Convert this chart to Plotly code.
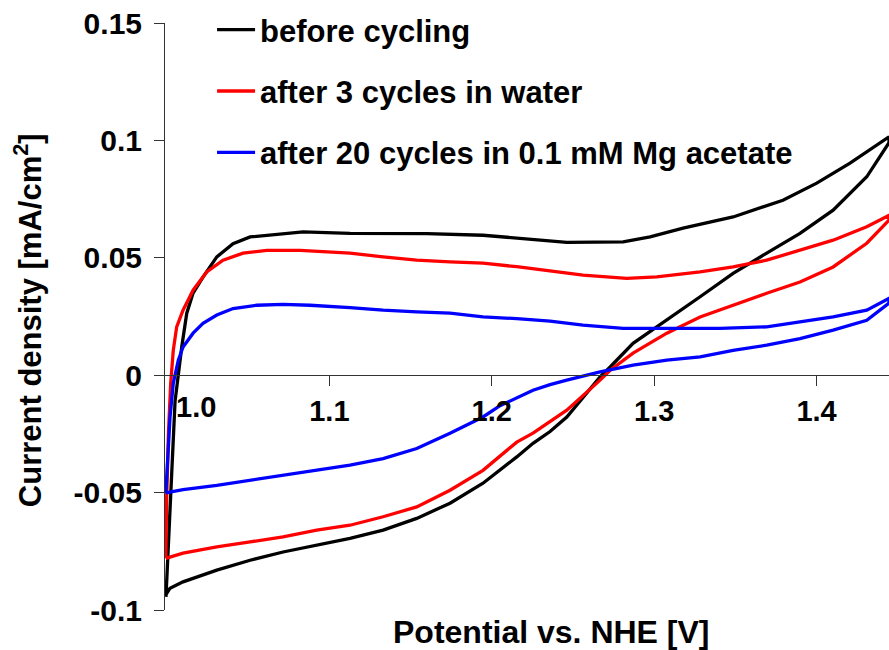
import plotly.graph_objects as go

# ---- data ----
series_names = ["before cycling", "after 3 cycles in water", "after 20 cycles in 0.1 mM Mg acetate"]
series_colors = ["#000000", "#FF0000", "#0000FF"]

black_x = [0.9994, 1.0007, 1.0019, 1.005, 1.0091, 1.0122, 1.0161, 1.0222, 1.0307, 1.0407, 1.0512,
           1.0715, 1.0838, 1.1127, 1.16, 1.1946, 1.2254, 1.2462, 1.2809, 1.2975, 1.3178, 1.3486,
           1.3793, 1.4001, 1.4206, 1.4446,
           1.4446, 1.4309, 1.4102, 1.3898, 1.3693, 1.3486, 1.3283, 1.3078, 1.287, 1.2729, 1.2667,
           1.2462, 1.2359, 1.2254, 1.2154, 1.1946, 1.1743, 1.1538, 1.1331, 1.1127, 1.0922, 1.0715,
           1.0512, 1.0307, 1.0099, 1.0019, 0.9993]
black_y = [-0.0944, -0.075, -0.05, -0.011, 0.012, 0.0264, 0.035, 0.0418, 0.0504, 0.056, 0.0589,
           0.0604, 0.061, 0.0604, 0.0603, 0.0596, 0.058, 0.0566, 0.0568, 0.0589, 0.0626, 0.0674,
           0.0745, 0.0818, 0.0903, 0.1015,
           0.099, 0.0845, 0.0703, 0.0604, 0.052, 0.0434, 0.0334, 0.0234, 0.0136, 0.0035, -0.0007,
           -0.0178, -0.024, -0.029, -0.0348, -0.046, -0.0545, -0.061, -0.066, -0.0695, -0.0724, -0.0753,
           -0.0788, -0.083, -0.088, -0.0907, -0.0935]

red_x = [0.9993, 0.9998, 1.0009, 1.0023, 1.0039, 1.006, 1.0099, 1.0161, 1.0245, 1.0345, 1.0469,
         1.0615, 1.082, 1.1127, 1.1331, 1.1538, 1.1743, 1.1946, 1.2154, 1.2359, 1.2562, 1.2831,
         1.3016, 1.3283, 1.3486, 1.3693, 1.3898, 1.4102, 1.4309, 1.4446,
         1.4446, 1.4309, 1.4102, 1.3898, 1.3693, 1.3486, 1.3283, 1.3078, 1.287, 1.2729, 1.2667,
         1.2462, 1.2254, 1.2154, 1.1946, 1.1743, 1.1538, 1.1331, 1.1127, 1.0922, 1.0715, 1.0512,
         1.0307, 1.0099, 1.0007, 0.9993]
red_y = [-0.078, -0.053, -0.0249, -0.0036, 0.0106, 0.0206, 0.0277, 0.0362, 0.044, 0.049, 0.052,
         0.0532, 0.0532, 0.052, 0.0504, 0.049, 0.0483, 0.0477, 0.0462, 0.0445, 0.0426, 0.0412,
         0.0419, 0.044, 0.0461, 0.049, 0.0532, 0.0575, 0.0632, 0.0681,
         0.066, 0.0562, 0.0461, 0.0397, 0.0349, 0.0298, 0.0248, 0.0179, 0.0094, 0.0021, -0.0021,
         -0.0149, -0.0247, -0.0285, -0.0405, -0.049, -0.0561, -0.0603, -0.0639, -0.066, -0.0689, -0.071,
         -0.0731, -0.0758, -0.0774, -0.078]

blue_x = [0.9993, 1.0009, 1.0019, 1.0039, 1.007, 1.0099, 1.0161, 1.0222, 1.0307, 1.0407, 1.0553,
          1.0715, 1.0881, 1.1127, 1.1331, 1.1538, 1.1743, 1.1946, 1.2154, 1.2359, 1.2562, 1.2809,
          1.3078, 1.3406, 1.3693, 1.3898, 1.4102, 1.4309, 1.4446,
          1.4446, 1.4309, 1.4102, 1.3898, 1.3693, 1.3486, 1.3283, 1.3078, 1.287, 1.2667, 1.2462,
          1.2359, 1.2254, 1.2154, 1.2051, 1.1946, 1.1743, 1.1538, 1.1331, 1.1127, 1.0922, 1.0715,
          1.0512, 1.0307, 1.0099, 0.9993]
blue_y = [-0.0503, -0.032, -0.0178, -0.0034, 0.0064, 0.012, 0.0179, 0.0221, 0.0256, 0.0284, 0.0298,
          0.0302, 0.0298, 0.0288, 0.0277, 0.027, 0.0264, 0.0248, 0.0241, 0.023, 0.0213, 0.0199,
          0.0199, 0.0199, 0.0206, 0.0227, 0.0248, 0.0277, 0.0327,
          0.0307, 0.0234, 0.0192, 0.0156, 0.0128, 0.0106, 0.0078, 0.0064, 0.0043, 0.0014, -0.0021,
          -0.004, -0.0064, -0.0095, -0.013, -0.0178, -0.0247, -0.0312, -0.0355, -0.0383, -0.0405, -0.0426,
          -0.0447, -0.0469, -0.0487, -0.0501]

x_tick_vals = [1.1, 1.2, 1.3, 1.4]
x_tick_text = ["1.1", "1.2", "1.3", "1.4"]
y_tick_vals = [-0.1, -0.05, 0, 0.05, 0.1, 0.15]
y_tick_text = ["-0.1", "-0.05", "0", "0.05", "0.1", "0.15"]

FONT = "Liberation Sans, Arial, sans-serif"

fig = go.Figure()
for name, color, xs, ys in zip(series_names, series_colors,
                               [black_x, red_x, blue_x], [black_y, red_y, blue_y]):
    fig.add_trace(go.Scatter(x=xs, y=ys, mode="lines", name="<b>" + name + "</b>",
                             legendgroup=name,
                             line=dict(color=color, width=3.3)))

fig.update_layout(
    width=889, height=650, autosize=False,
    margin=dict(l=165, r=0, t=23, b=40),
    paper_bgcolor="white", plot_bgcolor="white",
    font=dict(family=FONT, color="black"),
    legend=dict(x=0.065, y=1.034, xanchor="left", yanchor="top",
                font=dict(size=31, family=FONT, color="black"),
                bgcolor="rgba(0,0,0,0)", itemwidth=38, tracegroupgap=18,
                traceorder="grouped"),
    xaxis=dict(range=[0.9988, 1.4446], tickvals=x_tick_vals,
               ticktext=["<b>" + t + "</b>" for t in x_tick_text],
               ticks="outside", ticklen=10, tickwidth=1, tickcolor="#333",
               showline=True, linecolor="#333", linewidth=1, showgrid=False, zeroline=False,
               anchor="free", position=0.4,
               tickfont=dict(size=29, family=FONT, color="black")),
    yaxis=dict(range=[-0.1, 0.15], tickvals=y_tick_vals,
               ticktext=["<b>" + t + "</b>" for t in y_tick_text],
               ticks="outside", ticklen=10, tickwidth=1, tickcolor="#333",
               showline=True, linecolor="#333", linewidth=1, showgrid=False, zeroline=False,
               ticklabelstandoff=6,
               tickfont=dict(size=30, family=FONT, color="black")),
    showlegend=True,
)

fig.add_annotation(text="<b>1.0</b>", x=1.018, y=-0.0136, xref="x", yref="y",
                   showarrow=False, xanchor="center", yanchor="middle",
                   font=dict(size=29, family=FONT, color="black"))
fig.add_annotation(text="<b>Potential vs. NHE [V]</b>", x=0.5338, y=-0.0375,
                   xref="paper", yref="paper", showarrow=False,
                   xanchor="center", yanchor="middle",
                   font=dict(size=32, family=FONT, color="black"))
fig.add_annotation(text="<b>Current density [mA/cm<sup>2</sup>]</b>", x=-0.189, y=0.494,
                   xref="paper", yref="paper", showarrow=False, textangle=-90,
                   xanchor="center", yanchor="middle",
                   font=dict(size=31, family=FONT, color="black"))

fig.write_html("out.html")
